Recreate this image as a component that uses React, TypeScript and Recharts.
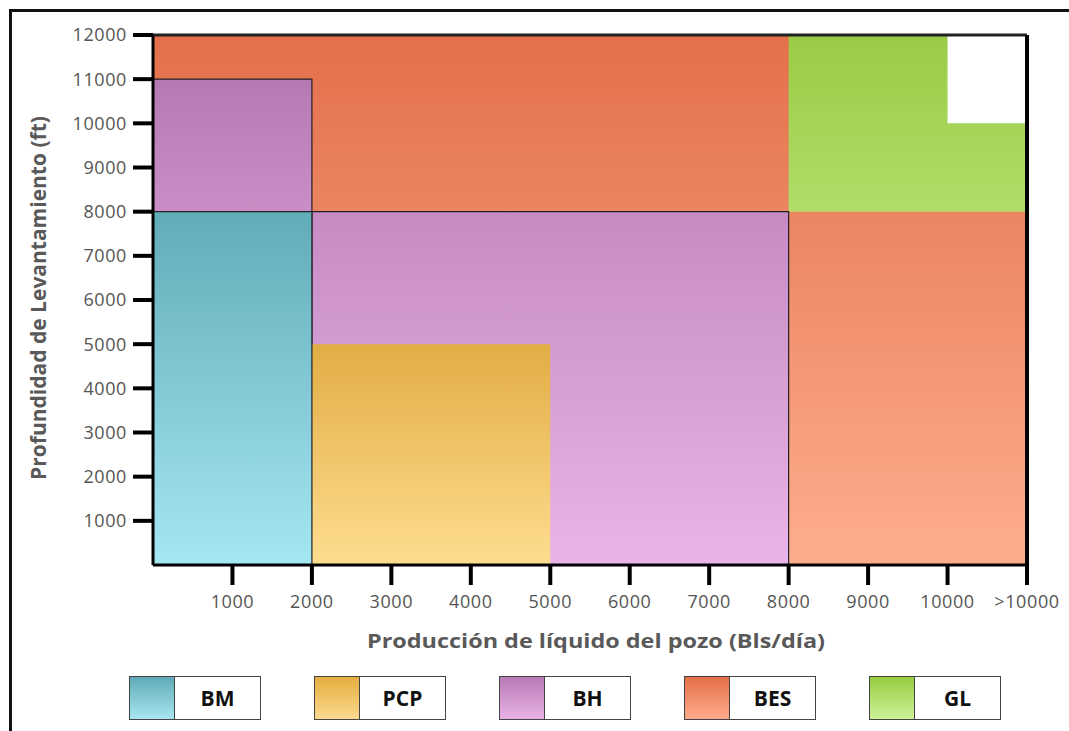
import React from 'react';
import {
  ComposedChart,
  XAxis,
  YAxis,
  ReferenceArea,
  ReferenceLine,
} from 'recharts';

// Production (bls/day) and lift depth (ft) ranges for each lift method
const besRange = { x: [0, 11000], y: [0, 12000] };
const glRange = { x: [8000, 11000], y: [8000, 12000] };
const glCutout = { x: [10000, 11000], y: [10000, 12000] };
const bhUpperRange = { x: [0, 2000], y: [8000, 11000] };
const bhLowerRange = { x: [2000, 8000], y: [0, 8000] };
const pcpRange = { x: [0, 5000], y: [0, 5000] };
const bmRange = { x: [0, 2000], y: [0, 8000] };

const xTicks = [1000, 2000, 3000, 4000, 5000, 6000, 7000, 8000, 9000, 10000, 11000];
const xTickLabels = ['1000', '2000', '3000', '4000', '5000', '6000', '7000', '8000', '9000', '10000', '>10000'];
const yTicks = [1000, 2000, 3000, 4000, 5000, 6000, 7000, 8000, 9000, 10000, 11000, 12000];

const legendNames = ['BM', 'PCP', 'BH', 'BES', 'GL'];
const legendColors = [
  ['#5eaab6', '#a8e6f1'],
  ['#e6ad40', '#fbda8f'],
  ['#b87ab5', '#e9b2e7'],
  ['#e5704a', '#fdab8c'],
  ['#98cb40', '#cdf398'],
];

const FONT = '"Open Sans", Lato, sans-serif';
const tickStyle = { fill: '#555', fontSize: 18, fontFamily: FONT, letterSpacing: 0.6 };

const grad = (id: string, top: string, bottom: string) => (
  <linearGradient id={id} x1='0' y1='0' x2='0' y2='1'>
    <stop offset='0%' stopColor={top} />
    <stop offset='100%' stopColor={bottom} />
  </linearGradient>
);

const area = (
  key: string,
  r: { x: number[]; y: number[] },
  fill: string,
  stroke?: string
) => (
  <ReferenceArea
    key={key}
    x1={r.x[0]}
    x2={r.x[1]}
    y1={r.y[0]}
    y2={r.y[1]}
    fill={fill}
    fillOpacity={1}
    stroke={stroke || 'none'}
    strokeWidth={stroke ? 1.2 : 0}
    ifOverflow='visible'
  />
);

export default function App() {
  return (
    <div
      style={{
        position: 'absolute',
        left: 0,
        top: 0,
        width: 1069,
        height: 731,
        overflow: 'hidden',
        background: '#fff',
        fontFamily: FONT,
      }}
    >
      {/* outer frame */}
      <div
        style={{
          position: 'absolute',
          left: 9,
          top: 9,
          width: 1200,
          height: 900,
          border: '3px solid #111',
        }}
      />
      <div style={{ position: 'absolute', left: 0, top: 0 }}>
        <ComposedChart
          width={1069}
          height={731}
          margin={{ top: 35, right: 42, bottom: 106, left: 53 }}
        >
          <defs>
            {grad('gBES', '#e3704a', '#fdae8f')}
            {grad('gGL', '#9bcb45', '#b0dd68')}
            {grad('gBHu', '#b679b3', '#cb8dc6')}
            {grad('gBHl', '#c68bc3', '#eab3e9')}
            {grad('gBM', '#60acb8', '#a5e7f3')}
            {grad('gPCP', '#e2ad44', '#fedd90')}
          </defs>
          <XAxis
            type='number'
            dataKey='x'
            domain={[0, 11000]}
            ticks={xTicks}
            tickFormatter={(v: number) => xTickLabels[xTicks.indexOf(v)]}
            interval={0}
            height={60}
            tickSize={20}
            tickMargin={10}
            axisLine={{ stroke: '#000', strokeWidth: 3 }}
            tickLine={{ stroke: '#000', strokeWidth: 4 }}
            tick={tickStyle}
            allowDataOverflow
          />
          <YAxis
            type='number'
            dataKey='y'
            domain={[0, 12000]}
            ticks={yTicks}
            interval={0}
            width={100}
            tickSize={20}
            tickMargin={6}
            axisLine={{ stroke: '#000', strokeWidth: 3 }}
            tickLine={{ stroke: '#000', strokeWidth: 4 }}
            tick={tickStyle}
            allowDataOverflow
          />
          {area('bes', besRange, 'url(#gBES)')}
          {area('gl', glRange, 'url(#gGL)')}
          {area('glcut', glCutout, '#ffffff')}
          {area('bhu', bhUpperRange, 'url(#gBHu)', '#222')}
          {area('bhl', bhLowerRange, 'url(#gBHl)', '#222')}
          {area('pcp', pcpRange, 'url(#gPCP)')}
          {area('bm', bmRange, 'url(#gBM)', '#222')}
          <ReferenceLine y={12000} stroke='#222' strokeWidth={3} />
          <ReferenceLine x={11000} stroke='#000' strokeWidth={4} />
        </ComposedChart>
      </div>

      {/* axis titles */}
      <div
        style={{
          position: 'absolute',
          left: 596,
          top: 640,
          transform: 'translate(-50%, -50%) scaleX(1.17)',
          whiteSpace: 'nowrap',
          fontWeight: 700,
          fontSize: 20,
          color: '#595959',
        }}
      >
        Producción de líquido del pozo (Bls/día)
      </div>
      <div
        style={{
          position: 'absolute',
          left: 38,
          top: 298,
          transform: 'translate(-50%, -50%) rotate(-90deg)',
          whiteSpace: 'nowrap',
          fontWeight: 700,
          fontSize: 21,
          color: '#595959',
        }}
      >
        Profundidad de Levantamiento (ft)
      </div>

      {/* legend */}
      {legendNames.map((name, i) => (
        <div
          key={name}
          style={{
            position: 'absolute',
            left: 129 + i * 185,
            top: 676,
            width: 132,
            height: 44,
            boxSizing: 'border-box',
            border: '1.5px solid #444',
            display: 'flex',
            background: '#fff',
          }}
        >
          <div
            style={{
              width: 44,
              height: '100%',
              borderRight: '1.5px solid #444',
              background: `linear-gradient(${legendColors[i][0]}, ${legendColors[i][1]})`,
            }}
          />
          <div
            style={{
              flex: 1,
              display: 'flex',
              alignItems: 'center',
              justifyContent: 'center',
              fontWeight: 700,
              fontSize: 21,
              color: '#111',
            }}
          >
            {name}
          </div>
        </div>
      ))}
    </div>
  );
}
